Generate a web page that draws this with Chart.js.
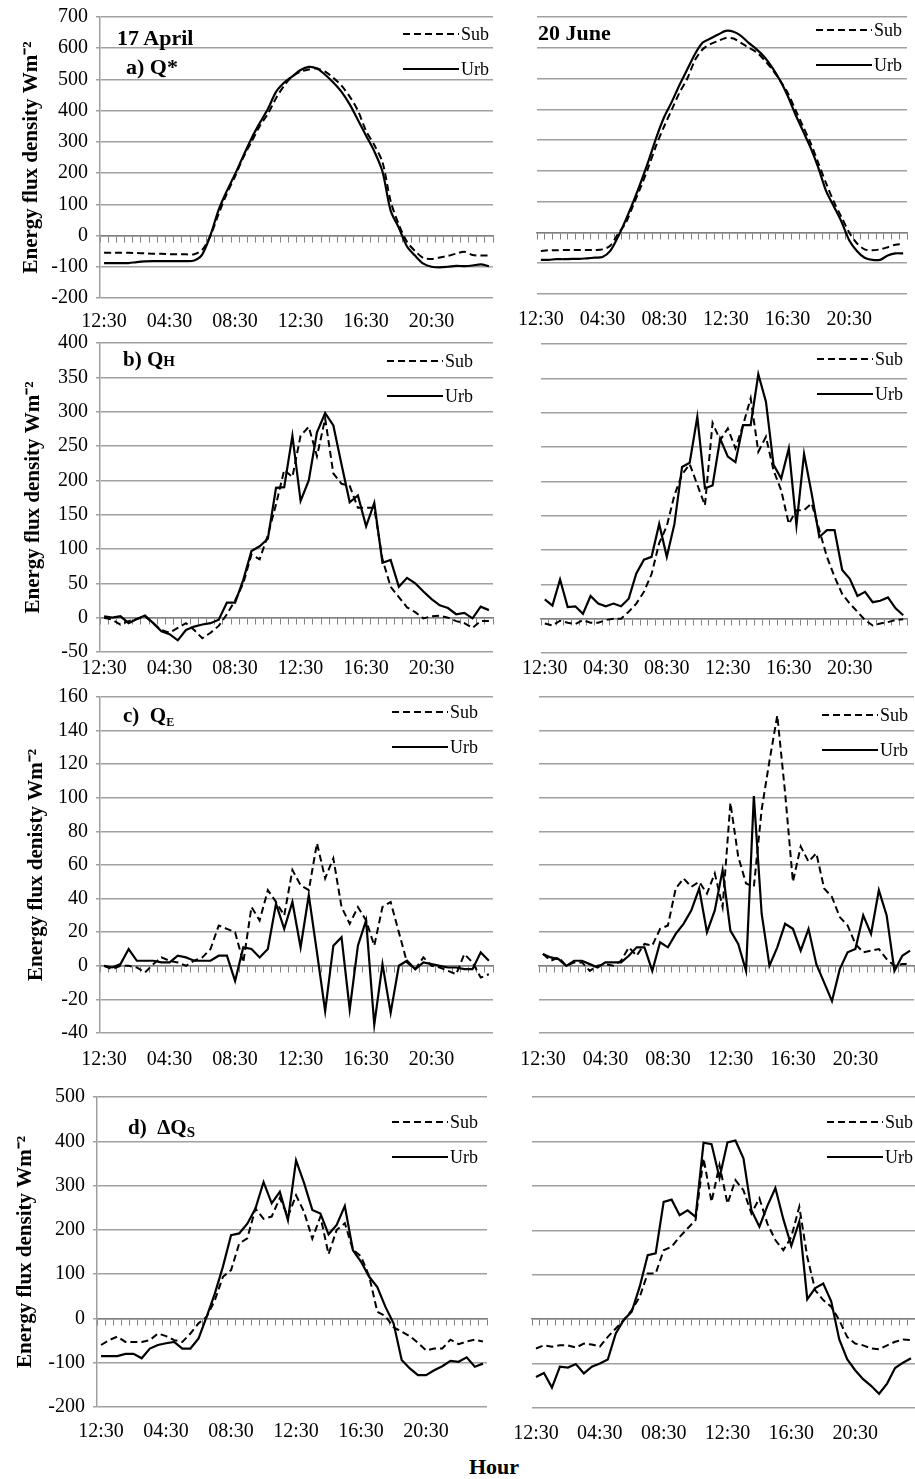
<!DOCTYPE html>
<html>
<head>
<meta charset="utf-8">
<script src="https://cdn.jsdelivr.net/npm/chart.js@4.4.1/dist/chart.umd.min.js"></script>
<style>
  body { margin: 0; width: 915px; height: 1479px; overflow: hidden; background: #fff; position: relative;
         font-family: "Liberation Serif", "Times New Roman", serif; }
  .panel { position: absolute; z-index: 1; }
  .panel canvas { display: block; }
  .lbl { position: absolute; z-index: 2; font-weight: bold; font-size: 21px; line-height: 1; white-space: nowrap; color: #000; }
</style>
</head>
<body>

<div class="lbl" style="left:117px;top:27px;font-size:22px">17 April</div>
<div class="lbl" style="left:126px;top:56px;font-size:22px">a) Q*</div>
<div class="lbl" style="left:538px;top:22px;font-size:22px">20 June</div>
<div class="lbl" style="left:123px;top:349px">b) Q<span style="font-size:15px">H</span></div>
<div class="lbl" style="left:123px;top:705px">c)&nbsp; Q<span style="font-size:12px;position:relative;top:4px">E</span></div>
<div class="lbl" style="left:128px;top:1117px">d)&nbsp; ΔQ<span style="font-size:15px;position:relative;top:3px">S</span></div>
<div class="lbl" style="left:469px;top:1456px;font-size:22px">Hour</div>

<script>
// half-hourly categories, first one is 00:30 (printed 12:30 in the original)
const hours = [
  "12:30","01:00","01:30","02:00","02:30","03:00","03:30","04:00",
  "04:30","05:00","05:30","06:00","06:30","07:00","07:30","08:00",
  "08:30","09:00","09:30","10:00","10:30","11:00","11:30","12:00",
  "12:30","13:00","13:30","14:00","14:30","15:00","15:30","16:00",
  "16:30","17:00","17:30","18:00","18:30","19:00","19:30","20:00",
  "20:30","21:00","21:30","22:00","22:30","23:00","23:30","00:00"
];

// y axis ranges: [min, max, step]
const qstarTicks = [-200, 700, 100];
const qhTicks = [-50, 400, 50];
const qeTicks = [-40, 160, 20];
const qsTicks = [-200, 500, 100];

const yTitle = "Energy flux density Wm⁻²";
const yTitleC = "Energy flux denisty Wm⁻²";

// a) Q*
const aprQstarSub = [-55,-55,-55,-55,-56,-57,-58,-58,-60,-60,-60,-60,-45,0,70,135,190,250,300,350,
  390,440,480,510,525,532,535,525,505,480,445,400,335,290,235,110,35,-20,-50,-72,-75,-70,-65,-58,-52,-62,-64,-64];
const aprQstarUrb = [-88,-88,-88,-88,-85,-83,-82,-82,-82,-82,-82,-80,-60,2,83,143,197,255,311,360,405,460,490,510,
  530,540,535,515,490,460,420,370,320,270,205,80,25,-35,-65,-90,-100,-102,-100,-97,-98,-96,-92,-98];
const junQstarSub = [-60,-58,-58,-57,-57,-57,-57,-57,-55,-43,-5,30,90,150,215,285,345,400,455,500,
  560,595,612,622,632,630,615,600,585,560,530,495,455,400,345,290,225,160,100,50,0,-35,-55,-58,-55,-48,-40,-38];
const junQstarUrb = [-89,-89,-87,-87,-86,-86,-84,-82,-80,-60,-15,40,100,165,235,310,375,425,480,530,580,617,630,643,
  655,652,638,615,595,570,536,495,445,385,330,275,210,135,85,35,-25,-60,-82,-89,-89,-75,-68,-68];

// b) QH
const aprQhSub = [0,-3,-10,-5,-2,2,-8,-18,-22,-15,-8,-18,-30,-22,-12,5,25,50,92,85,120,165,215,205,
  265,278,235,290,210,195,192,160,160,160,85,45,30,15,8,-1,2,3,0,-5,-8,-15,-5,-5];
const aprQhUrb = [2,0,2,-8,-2,3,-8,-20,-24,-33,-18,-13,-10,-8,-3,22,22,55,97,104,115,189,190,265,
  170,200,270,298,280,223,168,178,133,167,80,84,45,58,50,38,27,18,14,5,7,-1,16,11];
const junQhSub = [-7,-10,-3,-6,-8,-2,-6,-6,-2,0,0,10,22,39,65,110,135,180,210,225,195,165,285,260,
  277,248,282,321,243,265,216,187,138,158,158,168,129,90,61,36,22,10,-2,-10,-7,-5,-2,-1];
const junQhUrb = [28,19,57,17,18,7,33,22,18,22,18,29,66,86,90,138,90,138,221,227,294,190,194,262,
  236,228,282,282,356,316,224,204,248,136,240,182,119,129,129,71,58,33,39,24,26,31,15,5];

// c) QE
const aprQeSub = [0,-2,0,0,-1,-4,1,5,3,2,0,3,5,10,24,22,20,2,35,27,45,38,30,57,
  48,45,73,52,64,35,25,35,27,12,35,38,20,2,-2,5,0,-1,-3,-5,7,2,-7,-5];
const aprQeUrb = [0,-1,1,10,3,3,3,2,2,6,5,3,3,3,6,6,-9,11,10,5,10,37,22,38,
  11,42,8,-27,12,17,-26,12,27,-35,1,-28,0,3,-2,2,1,0,-1,-1,-2,-2,8,3];
const junQeSub = [7,3,5,0,2,2,-3,0,1,0,3,11,6,13,12,22,24,46,52,47,50,43,55,35,
  97,65,49,47,93,122,149,103,50,71,62,67,46,41,29,24,13,8,9,10,4,0,1,1];
const junQeUrb = [7,5,4,0,3,3,1,-1,2,2,2,6,11,11,-3,14,11,19,25,33,46,20,33,57,
  21,13,-3,101,31,0,11,25,22,9,22,1,-10,-21,-2,8,10,30,19,45,30,-3,6,9];

// d) dQS
const aprQsSub = [-60,-49,-41,-53,-53,-53,-49,-34,-40,-49,-53,-34,-11,4,41,94,109,169,181,248,225,230,272,230,
  278,240,180,230,145,200,215,155,140,95,15,5,-20,-30,-40,-55,-72,-68,-68,-48,-58,-52,-48,-52];
const aprQsUrb = [-85,-85,-85,-80,-80,-90,-68,-60,-56,-53,-68,-68,-45,4,56,117,188,192,214,248,308,260,286,222,
  357,305,245,237,190,211,254,154,128,94,71,26,-11,-94,-113,-128,-128,-117,-108,-96,-98,-88,-109,-102];
const junQsSub = [-66,-59,-62,-59,-59,-64,-55,-57,-62,-40,-21,-2,20,50,103,103,155,163,185,204,223,362,264,347,
  260,313,290,238,272,215,178,155,185,253,140,65,43,28,-2,-40,-55,-59,-66,-68,-59,-51,-46,-47];
const junQsUrb = [-130,-121,-154,-107,-109,-101,-122,-107,-100,-91,-32,-2,17,73,144,148,264,269,234,245,230,397,394,318,
  398,402,362,245,208,255,295,225,165,220,45,70,80,40,-45,-90,-115,-135,-150,-168,-145,-110,-98,-88];

Chart.defaults.font.family = '"Liberation Serif", "Times New Roman", serif';
Chart.defaults.color = '#000';

const gridGray = '#a0a0a0';
const axisGray = '#808080';

// legend drawn inside the plot, top right, like the Excel original
const insideLegend = {
  id: 'insideLegend',
  afterDraw(chart, args, opts) {
    const { ctx, chartArea } = chart;
    const end = chartArea.right - opts.right;
    ctx.save();
    chart.data.datasets.forEach((ds, i) => {
      const y = chartArea.top + opts.top + i * 35;
      ctx.strokeStyle = ds.borderColor;
      ctx.lineWidth = ds.borderWidth;
      ctx.setLineDash(ds.borderDash || []);
      ctx.beginPath();
      ctx.moveTo(end - 56, y);
      ctx.lineTo(end, y);
      ctx.stroke();
      ctx.setLineDash([]);
      ctx.fillStyle = '#000';
      ctx.font = '18px "Liberation Serif", serif';
      ctx.textBaseline = 'middle';
      ctx.fillText(ds.label, end + 2, y + 1);
    });
    ctx.restore();
  }
};

// plot area in page pixels: [left, right, top, bottom]
const panels = [
  { sub: aprQstarSub, urb: aprQstarUrb, ticks: qstarTicks, area: [100, 493, 17, 298], lab: 22, left: true, title: yTitle, tpad: 19, leg: [34, 17], tension: 0.3 },
  { sub: junQstarSub, urb: junQstarUrb, ticks: qstarTicks, area: [537, 907, 17, 294], lab: 24, left: false, leg: [35, 13], tension: 0.3 },
  { sub: aprQhSub, urb: aprQhUrb, ticks: qhTicks, area: [100, 493, 343, 652], lab: 15, left: true, title: yTitle, tpad: 21, leg: [50, 18] },
  { sub: junQhSub, urb: junQhUrb, ticks: qhTicks, area: [541, 907, 344, 653], lab: 14, left: false, leg: [34, 15] },
  { sub: aprQeSub, urb: aprQeUrb, ticks: qeTicks, area: [100, 493, 697, 1033], lab: 25, left: true, title: yTitleC, tpad: 24, leg: [45, 15] },
  { sub: junQeSub, urb: junQeUrb, ticks: qeTicks, area: [539, 914, 697, 1033], lab: 25, left: false, leg: [36, 18] },
  { sub: aprQsSub, urb: aprQsUrb, ticks: qsTicks, area: [97, 487, 1097, 1407], lab: 23, left: true, title: yTitle, tpad: 13, leg: [39, 25] },
  { sub: junQsSub, urb: junQsUrb, ticks: qsTicks, area: [532, 915, 1097, 1408], lab: 24, left: false, leg: [32, 25] }
];

function makePanel(p) {
  const [plotL, plotR, plotT, plotB] = p.area;
  const left0 = p.left ? 0 : 497;
  const padTop = 14, padRight = 12, xHeight = 46;
  const w = plotR + padRight - left0;
  const h = plotB - plotT + padTop + xHeight;

  const box = document.createElement('div');
  box.className = 'panel';
  box.style.left = left0 + 'px';
  box.style.top = (plotT - padTop) + 'px';
  const canvas = document.createElement('canvas');
  canvas.width = w;
  canvas.height = h;
  canvas.style.width = w + 'px';
  canvas.style.height = h + 'px';
  box.appendChild(canvas);
  document.body.appendChild(box);

  new Chart(canvas.getContext('2d'), {
    type: 'line',
    data: {
      labels: hours,
      datasets: [
        { label: 'Sub', data: p.sub, borderColor: '#000', borderWidth: 2, borderDash: [7, 4],
          pointRadius: 0, tension: p.tension || 0, fill: false },
        { label: 'Urb', data: p.urb, borderColor: '#000', borderWidth: 2.2,
          pointRadius: 0, tension: p.tension || 0, fill: false }
      ]
    },
    options: {
      responsive: false,
      animation: false,
      layout: { padding: { top: padTop, right: padRight, left: 0, bottom: 0 } },
      plugins: {
        legend: { display: false },
        tooltip: { enabled: false },
        insideLegend: { right: p.leg[0], top: p.leg[1] }
      },
      scales: {
        x: {
          type: 'category',
          offset: true,
          grid: { display: false, drawTicks: false },
          border: { display: false },
          ticks: {
            autoSkip: false, maxRotation: 0, minRotation: 0,
            padding: p.lab - 10,
            font: { size: 20 },
            callback: (v, i) => (i % 8 === 0 ? hours[i] : '')
          },
          afterFit: s => { s.height = xHeight; s.paddingLeft = 0; s.paddingRight = 0; }
        },
        // the zero line with its minor tick marks
        x2: {
          type: 'category',
          axis: 'x',
          position: { y: 0 },
          offset: true,
          grid: { offset: true, drawOnChartArea: false, drawTicks: true, tickLength: 6, color: axisGray, lineWidth: 1 },
          border: { display: true, color: axisGray, width: 1.5 },
          ticks: { display: false }
        },
        y: {
          min: p.ticks[0],
          max: p.ticks[1],
          ticks: { stepSize: p.ticks[2], display: p.left, padding: 8, font: { size: 20 } },
          grid: { color: gridGray, lineWidth: 1.5, drawTicks: p.left, tickLength: 4 },
          border: { display: p.left, color: gridGray, width: 1.5 },
          title: p.left
            ? { display: true, text: p.title, font: { size: 21, weight: 'bold' }, padding: { top: p.tpad, bottom: 0 } }
            : { display: false },
          afterFit: s => { s.width = plotL - left0; s.paddingTop = 0; s.paddingBottom = 0; }
        }
      }
    },
    plugins: [insideLegend]
  });
}

panels.forEach(makePanel);
</script>
</body>
</html>
